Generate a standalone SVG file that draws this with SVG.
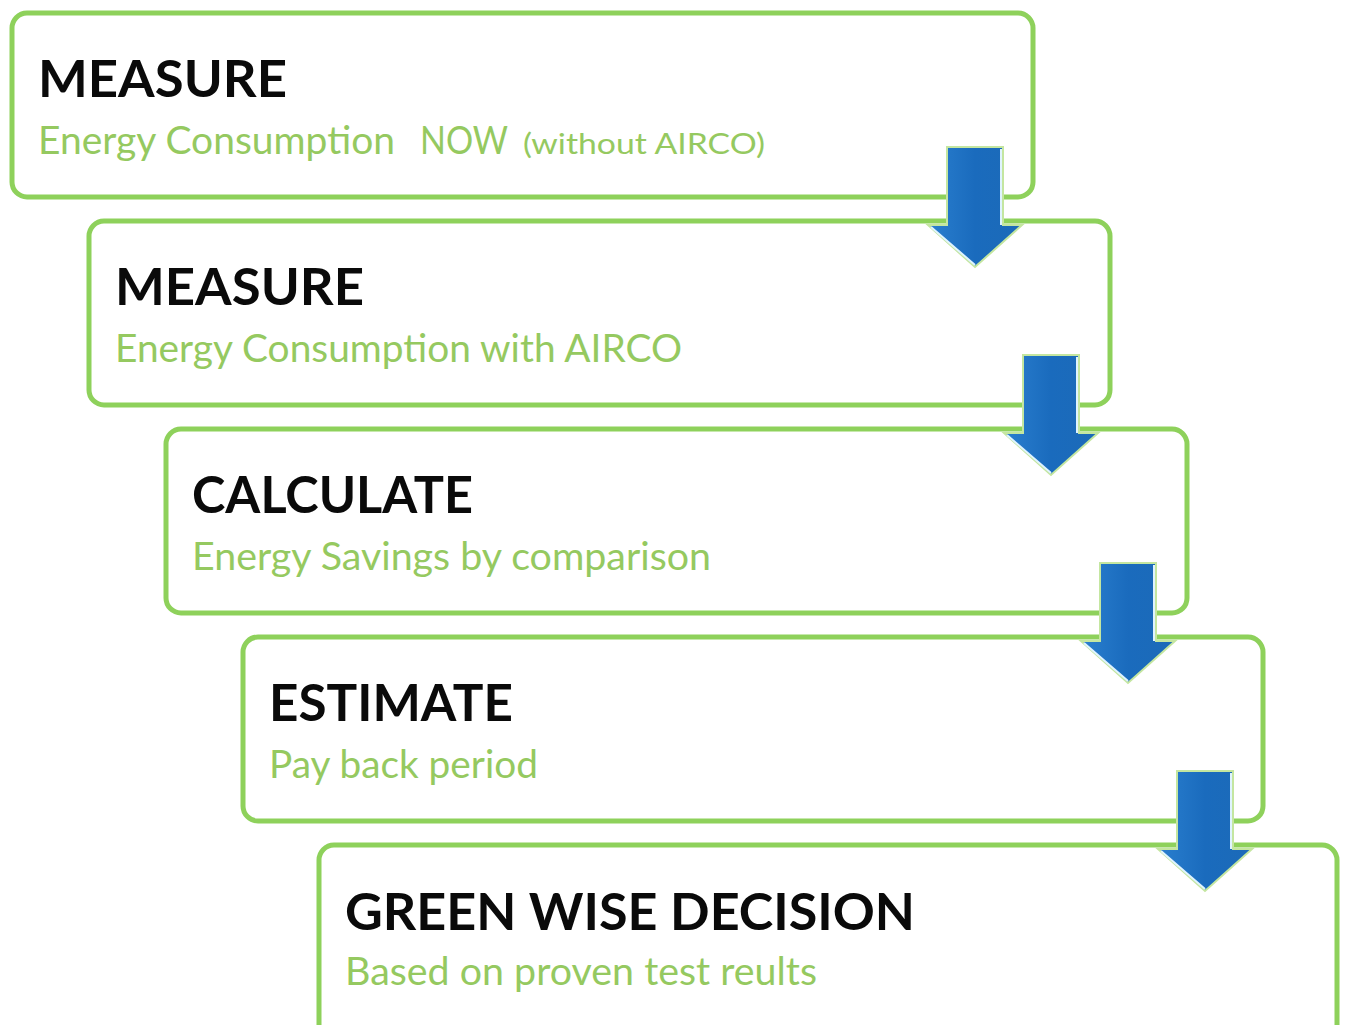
<svg xmlns="http://www.w3.org/2000/svg" width="1347" height="1025" viewBox="0 0 1347 1025">
<style>
.box{fill:#ffffff;stroke:#8ed15b;stroke-width:5}
.title{font-family:Lato,"Open Sans","Liberation Sans",sans-serif;font-weight:bold;font-size:51px;fill:#0a0a0a}
.sub{font-family:Lato,"Open Sans","Liberation Sans",sans-serif;font-size:38px;fill:#95c960}
.small{font-size:29px}
.arrow{fill:url(#blue);stroke:#c4e6a0;stroke-width:2;stroke-linejoin:miter}
.rim{fill:none;stroke:#dff3ff;stroke-width:2}
</style>
<defs>
<linearGradient id="blue" x1="0" y1="0" x2="1" y2="0">
<stop offset="0" stop-color="#2a7fcf"/>
<stop offset="0.5" stop-color="#1a6bbd"/>
<stop offset="1" stop-color="#1c6ab8"/>
</linearGradient>
<g id="arr">
<path class="arrow" d="M-28,0 H28 V78 H47 L0,120 L-47,78 H-28 Z"/>
<path class="rim" d="M-44,80 L0,118 M26,2 V78"/>
</g>
</defs>
<rect width="1347" height="1025" fill="#ffffff"/>
<g id="node1">
<rect class="box" x="12" y="13" width="1021" height="184" rx="15"/>
<text class="title" x="38" y="97" textLength="249" lengthAdjust="spacingAndGlyphs">MEASURE</text>
<text class="sub" y="154"><tspan x="38" textLength="357" lengthAdjust="spacingAndGlyphs">Energy Consumption</tspan><tspan x="420" textLength="88" lengthAdjust="spacingAndGlyphs">NOW</tspan><tspan class="small" x="523" textLength="242" lengthAdjust="spacingAndGlyphs">(without AIRCO)</tspan></text>
</g>
<g id="node2">
<rect class="box" x="89" y="221" width="1021" height="184" rx="15"/>
<text class="title" x="115" y="305" textLength="249" lengthAdjust="spacingAndGlyphs">MEASURE</text>
<text class="sub" x="115" y="362" textLength="567" lengthAdjust="spacingAndGlyphs">Energy Consumption with AIRCO</text>
</g>
<g id="node3">
<rect class="box" x="166" y="429" width="1021" height="184" rx="15"/>
<text class="title" x="192" y="513" textLength="281" lengthAdjust="spacingAndGlyphs">CALCULATE</text>
<text class="sub" x="192" y="570" textLength="519" lengthAdjust="spacingAndGlyphs">Energy Savings by comparison</text>
</g>
<g id="node4">
<rect class="box" x="243" y="637" width="1020" height="184" rx="15"/>
<text class="title" x="269" y="721" textLength="244" lengthAdjust="spacingAndGlyphs">ESTIMATE</text>
<text class="sub" x="269" y="778" textLength="269" lengthAdjust="spacingAndGlyphs">Pay back period</text>
</g>
<g id="node5">
<rect class="box" x="319" y="845" width="1018" height="200" rx="15"/>
<text class="title" x="345" y="930" textLength="570" lengthAdjust="spacingAndGlyphs">GREEN WISE DECISION</text>
<text class="sub" x="345" y="985" textLength="472" lengthAdjust="spacingAndGlyphs">Based on proven test reults</text>
</g>
<g id="connectors">
<use href="#arr" x="975" y="147"/>
<use href="#arr" x="1051" y="355"/>
<use href="#arr" x="1128" y="563"/>
<use href="#arr" x="1205" y="771"/>
</g>
</svg>
